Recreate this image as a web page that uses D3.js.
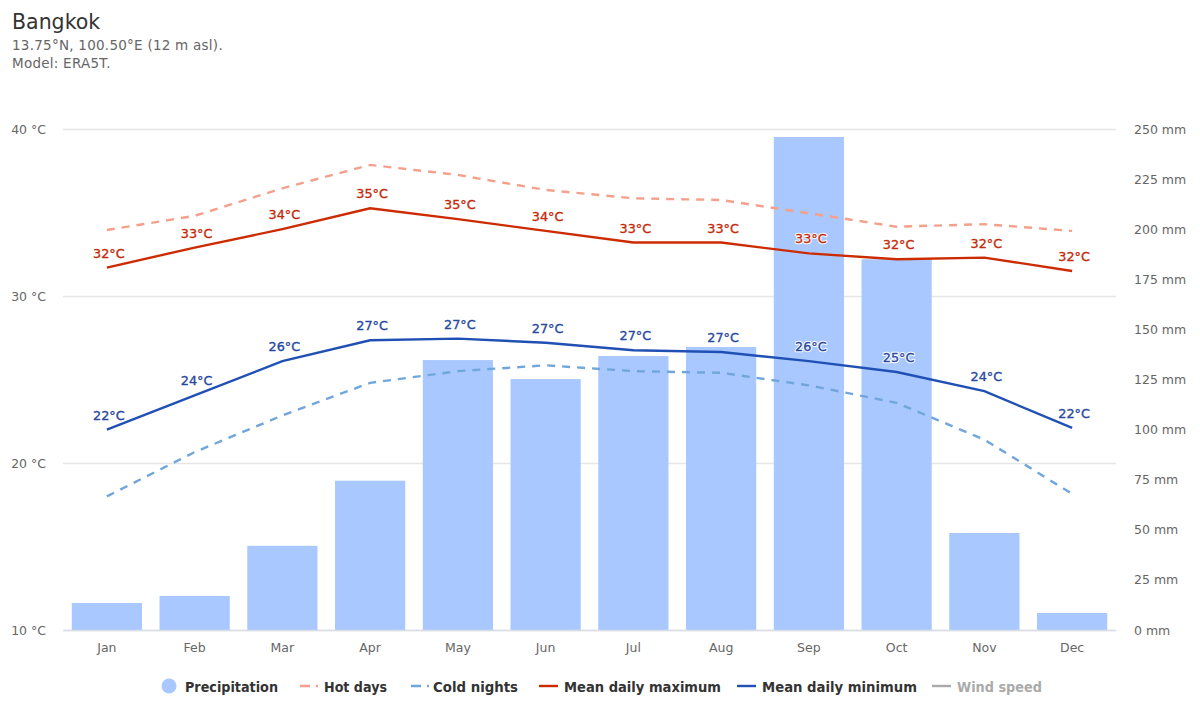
<!DOCTYPE html>
<html>
<head>
<meta charset="utf-8">
<script src="https://cdn.jsdelivr.net/npm/d3@7"></script>
<style>
  html, body { margin: 0; padding: 0; background: #fff; }
  text { font-family: "DejaVu Sans", sans-serif; }
</style>
</head>
<body>
<div id="chart"></div>
<script>
const months = ["Jan", "Feb", "Mar", "Apr", "May", "Jun", "Jul", "Aug", "Sep", "Oct", "Nov", "Dec"]
const precipitation = [13.5, 17, 42, 74.5, 134.7, 125.2, 136.7, 141.2, 246, 185, 48.4, 8.5]
const hotDays = [33.95, 34.8, 36.45, 37.85, 37.25, 36.35, 35.85, 35.75, 34.95, 34.15, 34.3, 33.9]
const coldNights = [18.0, 20.65, 22.85, 24.8, 25.5, 25.85, 25.5, 25.4, 24.65, 23.6, 21.4, 18.15]
const meanMax = [31.7, 32.9, 34.0, 35.25, 34.6, 33.9, 33.2, 33.2, 32.55, 32.2, 32.3, 31.5]
const meanMin = [22.0, 24.05, 26.1, 27.35, 27.45, 27.2, 26.75, 26.65, 26.1, 25.45, 24.3, 22.1]
const tempTicks = [10, 20, 30, 40]
const rainTicks = [0, 25, 50, 75, 100, 125, 150, 175, 200, 225, 250]
const subtitleLines = ["13.75°N, 100.50°E (12 m asl).", "Model: ERA5T."]

const width = 1200
const height = 720
const plot = { left: 63, right: 1116, top: 129, bottom: 630 }

const svg = d3.select("#chart")
  .append("svg")
  .attr("width", width)
  .attr("height", height)
  .style("display", "block")

const x = d3.scaleBand().domain(months).range([plot.left, plot.right]).paddingInner(0.2).paddingOuter(0.1)
const yTemp = d3.scaleLinear().domain([10, 40]).range([plot.bottom, plot.top])
const yRain = d3.scaleLinear().domain([0, 250]).range([plot.bottom, plot.top])
const midX = m => x(m) + x.bandwidth() / 2

// header
svg.append("text").attr("x", 12).attr("y", 29)
  .attr("font-size", 20.5).attr("fill", "#333").text("Bangkok")
svg.selectAll(".sub").data(subtitleLines).enter().append("text")
  .attr("class", "sub")
  .attr("x", 12).attr("y", (d, i) => 50 + i * 18)
  .attr("font-size", 13.5).attr("letter-spacing", 0.25).attr("fill", "#666").text(d => d)

// grid and axes
const leftAxis = svg.append("g")
  .attr("transform", `translate(${plot.left},0)`)
  .call(d3.axisLeft(yTemp).tickValues(tempTicks).tickSize(-(plot.right - plot.left)).tickPadding(17).tickFormat(d => `${d} °C`))
leftAxis.select(".domain").remove()
leftAxis.selectAll("line").attr("stroke", "#e6e6e6").attr("stroke-width", 1.3)
leftAxis.selectAll("text").attr("font-size", 12.5).attr("fill", "#666").attr("font-family", "DejaVu Sans")

const rightAxis = svg.append("g")
  .attr("transform", `translate(${plot.right},0)`)
  .call(d3.axisRight(yRain).tickValues(rainTicks).tickSize(0).tickPadding(18).tickFormat(d => `${d} mm`))
rightAxis.select(".domain").remove()
rightAxis.selectAll("text").attr("font-size", 12.5).attr("fill", "#666").attr("font-family", "DejaVu Sans")

// bars
svg.selectAll(".bar").data(precipitation).enter().append("rect")
  .attr("class", "bar")
  .attr("x", (d, i) => x(months[i]))
  .attr("y", d => yRain(d))
  .attr("width", x.bandwidth())
  .attr("height", d => yRain(0) - yRain(d))
  .attr("fill", "#a8c8ff")

const bottomAxis = svg.append("g")
  .attr("transform", `translate(0,${plot.bottom})`)
  .call(d3.axisBottom(x).tickSize(0).tickPadding(13))
bottomAxis.select(".domain").attr("stroke", "#d8dde6").attr("stroke-width", 1.3)
bottomAxis.selectAll("text").attr("font-size", 12.5).attr("fill", "#666").attr("font-family", "DejaVu Sans")

// lines
const line = d3.line().x((d, i) => midX(months[i])).y(d => yTemp(d))
const drawLine = (values, color, dash) => {
  svg.append("path").datum(values)
    .attr("d", line)
    .attr("fill", "none")
    .attr("stroke", color)
    .attr("stroke-width", 2.4)
    .attr("stroke-dasharray", dash)
}
drawLine(hotDays, "#f4a08c", "8 7")
drawLine(coldNights, "#70a6dc", "8 7")
drawLine(meanMax, "#cc2b00", null)
drawLine(meanMin, "#2150b4", null)

// data labels, white halo first then a slightly heavier glyph on top
const drawLabels = (values, color) => {
  const g = svg.append("g")
  const place = sel => sel
    .attr("x", (d, i) => midX(months[i]) + 2)
    .attr("y", d => yTemp(d) - 10)
    .attr("text-anchor", "middle")
    .attr("font-size", 12.8)
    .text(d => `${Math.round(d)}°C`)
  g.selectAll(".halo").data(values).enter().append("text")
    .attr("class", "halo")
    .call(place)
    .attr("fill", "#fff")
    .attr("stroke", "#fff")
    .attr("stroke-width", 2.4)
    .attr("stroke-linejoin", "round")
  g.selectAll(".glyph").data(values).enter().append("text")
    .attr("class", "glyph")
    .call(place)
    .attr("fill", color)
    .attr("stroke", color)
    .attr("stroke-width", 0.35)
}
drawLabels(meanMax, "#c42a08")
drawLabels(meanMin, "#27489f")

// legend
const legendY = 687
const legendItems = [
  { name: "Precipitation", color: "#a8c8ff", lineX: null, textX: 185, textW: 93 },
  { name: "Hot days", color: "#f4a08c", lineX: [300, 319], dash: "10 6 2 6", textX: 324, textW: 63 },
  { name: "Cold nights", color: "#70a6dc", lineX: [411, 430], dash: "10 6 2 6", textX: 433, textW: 85 },
  { name: "Mean daily maximum", color: "#cc2b00", lineX: [539, 558], textX: 564, textW: 157 },
  { name: "Mean daily minimum", color: "#2150b4", lineX: [737, 756], textX: 762, textW: 155 },
  { name: "Wind speed", color: "#aaa", lineX: [932, 951], textX: 957, textW: 85, muted: true },
]
svg.append("circle").attr("cx", 169).attr("cy", legendY - 1).attr("r", 7.5).attr("fill", "#a8c8ff")
legendItems.filter(d => d.lineX).forEach(d => {
  svg.append("line")
    .attr("x1", d.lineX[0]).attr("x2", d.lineX[1])
    .attr("y1", legendY - 1).attr("y2", legendY - 1)
    .attr("stroke", d.color).attr("stroke-width", 2.4)
    .attr("stroke-dasharray", d.dash || null)
})
svg.selectAll(".legend").data(legendItems).enter().append("text")
  .attr("class", "legend")
  .attr("x", d => d.textX)
  .attr("y", legendY + 5)
  .attr("font-size", 14)
  .attr("font-weight", "bold")
  .attr("textLength", d => d.textW)
  .attr("lengthAdjust", "spacingAndGlyphs")
  .attr("fill", d => d.muted ? "#aaa" : "#333")
  .text(d => d.name)
</script>
</body>
</html>
